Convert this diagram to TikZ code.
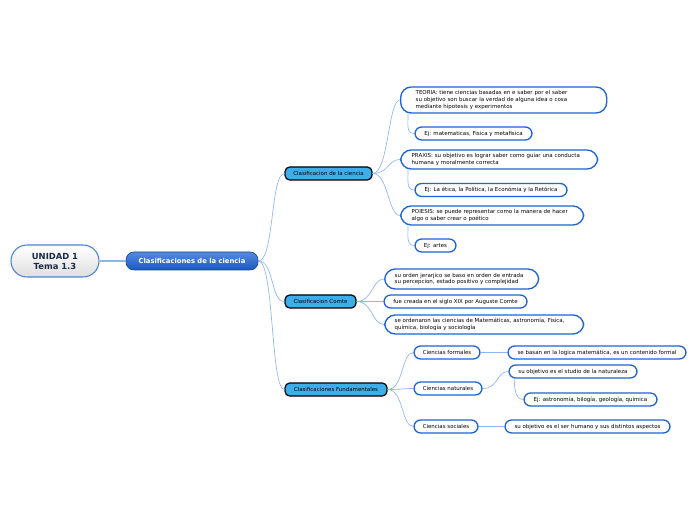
\documentclass[tikz,border=0pt]{standalone}
\usepackage{fontspec}
\setmainfont{DejaVu Sans}
\usepackage{xcolor}
\usetikzlibrary{positioning,calc}
\definecolor{linkblue}{HTML}{8DB6F0}
\definecolor{edgeblue}{HTML}{1E63D6}
\definecolor{catfill}{HTML}{3DAEE9}
\definecolor{navy}{HTML}{1B2A48}
\newlength{\pxu}\setlength{\pxu}{0.75pt}
\tikzset{rootbox/.style={draw=edgeblue!80,line width=0.8pt,rounded corners=12pt,top color=white,bottom color=gray!25,
    align=center,font=\fontsize{6.3}{7.5}\selectfont\bfseries,text=navy,minimum width=88\pxu,minimum height=32\pxu,inner sep=1pt},
  mainbox/.style={draw=edgeblue!70!black,line width=0.5pt,rounded corners=6pt,top color=edgeblue!75,bottom color=edgeblue!90!black,
    text=white,font=\fontsize{5.1}{6}\selectfont\bfseries,minimum height=18\pxu,inner sep=1pt},
  catbox/.style={draw=black,line width=0.9pt,rounded corners=3.5pt,fill=catfill,font=\fontsize{4.1}{4.8}\selectfont,
    minimum height=13\pxu,inner sep=1pt},
  leaf/.style={draw=edgeblue,line width=1pt,rounded corners=5pt,fill=white,font=\fontsize{4.1}{4.9}\selectfont,
    minimum height=13\pxu,inner sep=1pt},
  bigleaf/.style={leaf,rounded corners=8pt,align=left,inner xsep=12\pxu,anchor=west},
  link/.style={draw=linkblue,line width=0.5pt}}

\begin{document}
\begin{tikzpicture}[x=0.75pt,y=-0.75pt]
\useasboundingbox (0,0) rectangle (696,520);
% centre
\node[rootbox] (unit) at (55,261) {UNIDAD 1\\Tema 1.3};
\node[mainbox,minimum width=132\pxu] (clas) at (192,261) {Clasificaciones de la ciencia};
% level one
\node[catbox,minimum width=87\pxu] (ciencia) at (328.5,173.5) {Clasificacion de la ciencia};
\node[catbox,minimum width=71\pxu] (comte) at (320.5,301.5) {Clasificacion Comte};
\node[catbox,minimum width=102\pxu] (fund) at (336,389.5) {Clasificaciones Fundamentales};
% ciencia branch
\node[bigleaf,minimum width=206\pxu,minimum height=26\pxu,text width=176\pxu] (teoria) at (400,100) {TEORIA: tiene ciencias basadas en e saber por el saber\\su objetivo son buscar la verdad de alguna idea o cosa\\mediante hipotesis y experimentos};
\node[leaf,minimum width=117\pxu] (ejmat) at (473.5,133.5) {Ej: matematicas, Fisica y metafisica};
\node[bigleaf,minimum width=197\pxu,minimum height=19\pxu,text width=175\pxu,inner xsep=11\pxu] (praxis) at (400,159.5) {PRAXIS: su objetivo es lograr saber como guiar una conducta\\humana y moralmente correcta};
\node[leaf,minimum width=152\pxu] (ejetica) at (491,190) {Ej: La ética, la Política, la Económia y la Retórica};
\node[bigleaf,minimum width=183\pxu,minimum height=19\pxu,text width=161\pxu,inner xsep=11\pxu] (poiesis) at (400,215.5) {POIESIS: se puede representar como la manera de hacer\\algo o saber crear o poético};
\node[leaf,minimum width=41\pxu] (ejartes) at (435.5,245.5) {Ej: artes};
% comte branch
\node[bigleaf,minimum width=154\pxu,minimum height=20\pxu,text width=134\pxu,inner xsep=10\pxu] (orden) at (384,279) {su orden jerarjico se baso en orden de entrada\\su percepcion, estado positivo y complejidad};
\node[leaf,minimum width=143\pxu] (creada) at (455.5,301.5) {fue creada en el siglo XIX por Auguste Comte};
\node[bigleaf,minimum width=199\pxu,minimum height=19\pxu,text width=179\pxu,inner xsep=10\pxu] (ordenaron) at (384,324.5) {se ordenaron las ciencias de Matemáticas, astronomía, Fisica,\\química, biología y sociología};
% fundamentales branch
\node[leaf,minimum width=66\pxu] (formales) at (447,352.5) {Ciencias formales};
\node[leaf,minimum width=178\pxu] (logica) at (597,352.5) {se basan en la logica matemática, es un contenido formal};
\node[leaf,minimum width=68\pxu] (naturales) at (448,388.5) {Ciencias naturales};
\node[leaf,minimum width=128\pxu] (studio) at (573,371.5) {su objetivo es el studio de la naturaleza};
\node[leaf,minimum width=133\pxu] (ejastro) at (590.5,399.5) {Ej: astronomía, bilogía, geología, química};
\node[leaf,minimum width=64\pxu] (sociales) at (446,426.5) {Ciencias sociales};
\node[leaf,minimum width=165\pxu] (humano) at (587.5,426.5) {su objetivo es el ser humano y sus distintos aspectos};
% connectors
\draw[link,line width=0.8pt] (unit.east) -- (clas.west);
\foreach \c in {ciencia,comte,fund}
  \draw[link] (clas.east) .. controls +(16,0) and +(-14,0) .. (\c.west);
\foreach \c in {teoria,praxis,poiesis}
  \draw[link] (ciencia.east) .. controls +(16,0) and +(-12,0) .. (\c.west);
\foreach \c in {orden,creada,ordenaron}
  \draw[link] (comte.east) .. controls +(16,0) and +(-12,0) .. (\c.west);
\foreach \c in {formales,naturales,sociales}
  \draw[link] (fund.east) .. controls +(16,0) and +(-12,0) .. (\c.west);
\draw[link] ($(teoria.south west)+(8,0)$) .. controls +(0,12) and +(-8,0) .. (ejmat.west);
\draw[link] ($(praxis.south west)+(8,0)$) .. controls +(0,10) and +(-8,0) .. (ejetica.west);
\draw[link] ($(poiesis.south west)+(8,0)$) .. controls +(0,10) and +(-8,0) .. (ejartes.west);
\draw[link] (formales.east) -- (logica.west);
\draw[link] (naturales.east) .. controls +(16,0) and +(-12,0) .. (studio.west);
\draw[link] ($(studio.south west)+(6,0)$) .. controls +(0,10) and +(-8,0) .. (ejastro.west);
\draw[link] (sociales.east) -- (humano.west);
\end{tikzpicture}
\end{document}
